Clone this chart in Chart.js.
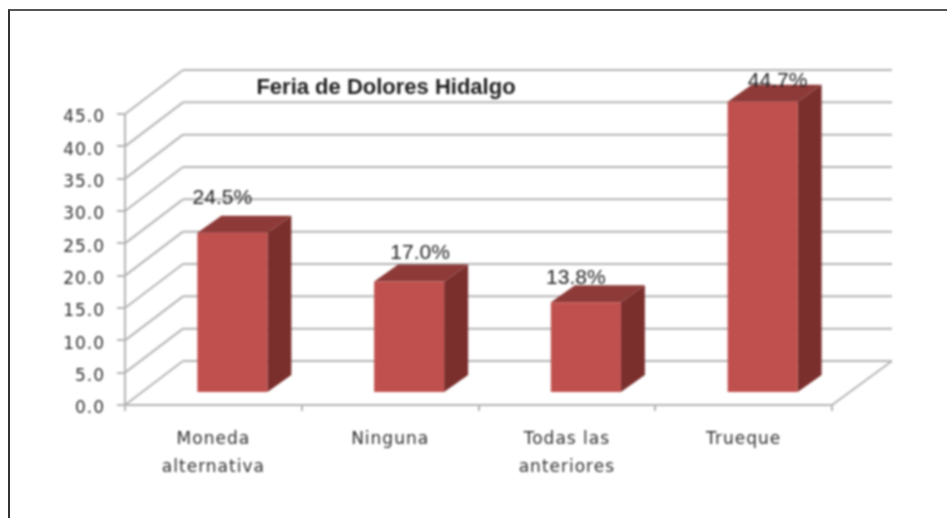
<!DOCTYPE html>
<html>
<head>
<meta charset="utf-8">
<title>Feria de Dolores Hidalgo</title>
<script src="https://cdn.jsdelivr.net/npm/chart.js@4/dist/chart.umd.min.js"></script>
<style>
    html, body { margin: 0; padding: 0; background: #fff; overflow: hidden; }
    #marco { position: absolute; left: 8px; top: 9px; right: 0; bottom: 0; border-top: 2px solid #555; border-left: 2px solid #333; }
    #grafica { position: absolute; left: 0; top: 0; filter: blur(1.1px); }
</style>
</head>
<body>
<div id="marco"></div>
<canvas id="grafica" width="947" height="518"></canvas>
<script>
var titulo = 'Feria de Dolores Hidalgo';
var categorias = [['Moneda', 'alternativa'], 'Ninguna', ['Todas las', 'anteriores'], 'Trueque'];
var valores = [24.5, 17.0, 13.8, 44.7];
var etiquetas = ['24.5%', '17.0%', '13.8%', '44.7%'];
var marcasY = [0, 5, 10, 15, 20, 25, 30, 35, 40, 45];

// desplazamiento de cada etiqueta respecto a la cara frontal de su barra
var ajusteEtiquetas = [[-10, -35], [11, -28], [-10, -24], [15, -20]];

var colorFrente = '#c0504d';
var colorArriba = '#8d3a38';
var colorLado = '#7b2f2d';
var colorRejilla = '#b4b4b4';
var fondo = { dx: 58, dy: -44 };      // pared del fondo
var barra3d = { dx: 24, dy: -17 };    // profundidad de las barras
var corrimientoBarra = 19;

function linea(ctx, x1, y1, x2, y2) {
    ctx.beginPath();
    ctx.moveTo(x1, y1);
    ctx.lineTo(x2, y2);
    ctx.stroke();
}

function poligono(ctx, puntos, color) {
    ctx.fillStyle = color;
    ctx.beginPath();
    puntos.forEach(function (p, i) {
        if (i === 0) ctx.moveTo(p[0], p[1]);
        else ctx.lineTo(p[0], p[1]);
    });
    ctx.closePath();
    ctx.fill();
}

var efecto3d = {
    id: 'efecto3d',
    beforeDraw: function (chart) {
        chart.ctx.letterSpacing = '1px';
    },
    beforeDatasetsDraw: function (chart) {
        var ctx = chart.ctx, a = chart.chartArea, y = chart.scales.y;
        ctx.save();
        ctx.strokeStyle = colorRejilla;
        ctx.lineWidth = 2;
        marcasY.forEach(function (m) {
            var py = y.getPixelForValue(m);
            linea(ctx, a.left, py, a.left + fondo.dx, py + fondo.dy);
            linea(ctx, a.left + fondo.dx, py + fondo.dy, a.right + fondo.dx + 2, py + fondo.dy);
        });
        linea(ctx, a.right, a.bottom, a.right + fondo.dx + 2, a.bottom + fondo.dy);
        ctx.restore();
    },
    beforeDatasetDraw: function (chart, args) {
        var ctx = chart.ctx;
        ctx.save();
        ctx.translate(corrimientoBarra, 0);
        args.meta.data.forEach(function (bar) {
            var izq = bar.x - bar.width / 2, der = bar.x + bar.width / 2;
            poligono(ctx, [[der, bar.y], [der + barra3d.dx, bar.y + barra3d.dy],
                [der + barra3d.dx, bar.base + barra3d.dy], [der, bar.base]], colorLado);
            poligono(ctx, [[izq, bar.y], [izq + barra3d.dx, bar.y + barra3d.dy],
                [der + barra3d.dx, bar.y + barra3d.dy], [der, bar.y]], colorArriba);
        });
    },
    afterDatasetDraw: function (chart) {
        chart.ctx.restore();
    },
    afterDatasetsDraw: function (chart) {
        var ctx = chart.ctx;
        ctx.save();
        ctx.letterSpacing = '0px';
        ctx.textAlign = 'center';
        ctx.textBaseline = 'middle';
        ctx.fillStyle = '#1e1e1e';
        ctx.font = '21px "Liberation Sans"';
        chart.getDatasetMeta(0).data.forEach(function (bar, i) {
            ctx.fillText(etiquetas[i], bar.x + corrimientoBarra + ajusteEtiquetas[i][0], bar.y + ajusteEtiquetas[i][1]);
        });
        ctx.font = 'bold 22px "Liberation Sans"';
        ctx.fillStyle = '#1e1e1e';
        ctx.fillText(titulo, chart.chartArea.left + 261, chart.chartArea.top - 26);
        ctx.restore();
    }
};

var config = {
    type: 'bar',
    data: {
        labels: categorias,
        datasets: [{
            data: valores,
            yAxisID: 'yBarras',
            backgroundColor: colorFrente,
            borderWidth: 0,
            barPercentage: 0.396,
            categoryPercentage: 1,
            clip: false
        }]
    },
    options: {
        responsive: false,
        animation: false,
        layout: { padding: { left: 0, top: 114, right: 115, bottom: 0 } },
        plugins: {
            legend: { display: false },
            title: { display: false },
            tooltip: { enabled: false }
        },
        scales: {
            x: {
                afterFit: function (scale) { scale.height = 113; },
                border: { color: colorRejilla, width: 2 },
                grid: { drawOnChartArea: false, color: colorRejilla, lineWidth: 2, tickLength: 6 },
                ticks: {
                    color: '#2e2e2e',
                    padding: 15,
                    maxRotation: 0,
                    autoSkip: false,
                    font: { family: 'DejaVu Sans', size: 17, lineHeight: 1.65 }
                }
            },
            y: {
                min: 0,
                max: 45,
                afterFit: function (scale) { scale.width = 125; },
                border: { color: colorRejilla, width: 2 },
                grid: { drawOnChartArea: false, color: colorRejilla, lineWidth: 2, tickLength: 8 },
                ticks: {
                    stepSize: 5,
                    color: '#2e2e2e',
                    padding: 12,
                    labelOffset: 4,
                    font: { family: 'DejaVu Sans', size: 17 },
                    callback: function (v) { return v.toFixed(1); }
                }
            },
            // las barras quedan mas adelante que la pared, con su base sobre el piso
            yBarras: { display: false, min: -2, max: 42.8 }
        }
    },
    plugins: [efecto3d]
};

window.onload = function () {
    var ctx = document.getElementById('grafica').getContext('2d');
    window.miGrafica = new Chart(ctx, config);
};
</script>
</body>
</html>
